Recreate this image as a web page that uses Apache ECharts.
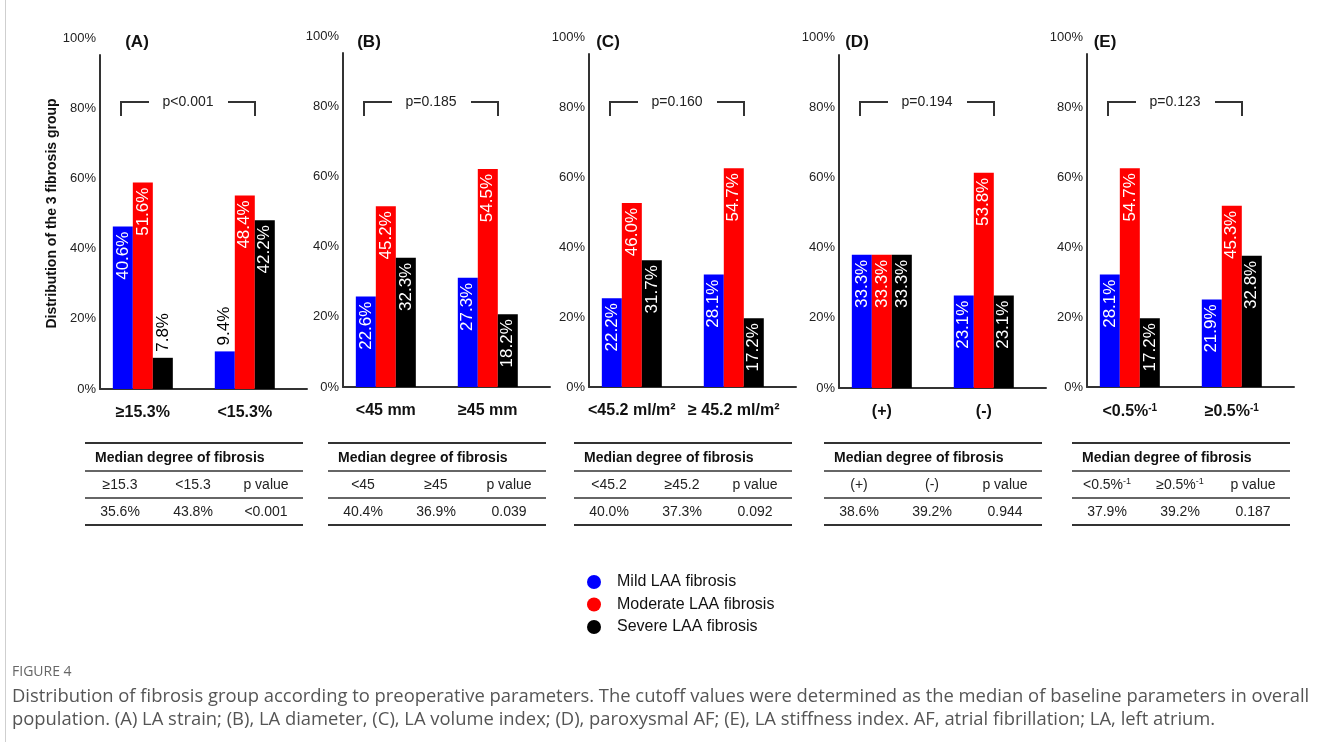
<!DOCTYPE html>
<html>
<head>
<meta charset="utf-8">
<script src="https://cdn.jsdelivr.net/npm/echarts@6/dist/echarts.min.js"></script>
<style>
html, body { margin: 0; padding: 0; background: #fff; }
#chart { width: 1329px; height: 742px; }
</style>
</head>
<body>
<div id="chart"></div>
<script>
// data
const panelTitles = ['(A)', '(B)', '(C)', '(D)', '(E)']
const levelNames = ['Mild LAA fibrosis', 'Moderate LAA fibrosis', 'Severe LAA fibrosis']
const categories = [
  ['≥15.3%', '<15.3%'],
  ['<45 mm', '≥45 mm'],
  ['<45.2 ml/m²', '≥ 45.2 ml/m²'],
  ['(+)', '(-)'],
  ['<0.5%⁻¹', '≥0.5%⁻¹']
]
const mild = [[40.6, 9.4], [22.6, 27.3], [22.2, 28.1], [33.3, 23.1], [28.1, 21.9]]
const moderate = [[51.6, 48.4], [45.2, 54.5], [46.0, 54.7], [33.3, 53.8], [54.7, 45.3]]
const severe = [[7.8, 42.2], [32.3, 18.2], [31.7, 17.2], [33.3, 23.1], [17.2, 32.8]]
const groupP = ['p<0.001', 'p=0.185', 'p=0.160', 'p=0.194', 'p=0.123']
const tableHeads = [
  ['≥15.3', '<15.3'],
  ['<45', '≥45'],
  ['<45.2', '≥45.2'],
  ['(+)', '(-)'],
  ['<0.5%⁻¹', '≥0.5%⁻¹']
]
const medianFibrosis = [[35.6, 43.8], [40.4, 36.9], [40.0, 37.3], [38.6, 39.2], [37.9, 39.2]]
const medianP = ['<0.001', '0.039', '0.092', '0.944', '0.187']
const yTicks = [0, 20, 40, 60, 80, 100]

// layout
const font = 'Liberation Sans, Arial, sans-serif'
const colors = ['#0000ff', '#ff0000', '#000000']
const axisX = [100, 343, 589, 839, 1087]
const baseY = [389, 387, 387, 388, 387]
const labelTop = [38, 36, 37, 37, 37]
const lineTop = [55, 53, 54, 55, 54]
const titleX = [137, 369, 608, 857, 1105]
const pxPerPct = 4.0
const axisLen = 207

function supText(s) {
  const parts = s.split('⁻¹')
  return parts.length > 1 ? '{n|' + parts[0] + '}{s|-1}' : s
}

const chart = echarts.init(document.getElementById('chart'))

const grid = []
const xAxis = []
const yAxis = []
const series = []
const graphic = []

const insideLabel = {
  show: true,
  position: 'insideTop',
  rotate: 90,
  align: 'right',
  verticalAlign: 'middle',
  distance: 5,
  color: '#fff',
  fontSize: 17,
  fontFamily: font,
  formatter: p => p.value[1].toFixed(1) + '%'
}
const outsideLabel = Object.assign({}, insideLabel, {
  position: 'top', align: 'left', color: '#000', distance: 6
})

panelTitles.forEach((t, i) => {
  const ax = axisX[i]
  // grid for the 0-100% tick labels
  grid.push({ left: ax, top: labelTop[i], width: axisLen, height: baseY[i] - labelTop[i] })
  xAxis.push({ gridIndex: 2 * i, type: 'value', show: false, min: 0, max: 1 })
  yAxis.push({
    gridIndex: 2 * i,
    type: 'value',
    min: yTicks[0],
    max: yTicks[yTicks.length - 1],
    interval: 20,
    axisLine: { show: false },
    axisTick: { show: false },
    splitLine: { show: false },
    axisLabel: { formatter: '{value}%', margin: 4, fontSize: 13, color: '#222', fontFamily: font },
    name: i === 0 ? 'Distribution of the 3 fibrosis group' : '',
    nameLocation: 'middle',
    nameGap: 40,
    nameTextStyle: { fontSize: 14, fontWeight: 'bold', color: '#111', fontFamily: font }
  })
  // grid holding the bars
  grid.push({ left: ax, top: lineTop[i], width: axisLen, height: baseY[i] - lineTop[i] })
  xAxis.push({
    gridIndex: 2 * i + 1,
    type: 'value',
    min: -0.42,
    max: 1.61,
    axisLine: { show: true, onZero: false, lineStyle: { color: '#333', width: 2 } },
    axisTick: { show: false },
    splitLine: { show: false },
    axisLabel: {
      customValues: [0, 1],
      formatter: v => supText(categories[i][Math.round(v)]),
      margin: 16,
      fontSize: 16,
      fontWeight: 'bold',
      color: '#111',
      fontFamily: font,
      rich: {
        n: { fontSize: 16, fontWeight: 'bold', color: '#111', fontFamily: font, lineHeight: 18 },
        s: { fontSize: 10, fontWeight: 'bold', color: '#111', fontFamily: font, lineHeight: 10, verticalAlign: 'top' }
      }
    }
  })
  yAxis.push({
    gridIndex: 2 * i + 1,
    type: 'value',
    min: 0,
    max: (baseY[i] - lineTop[i]) / pxPerPct,
    axisLine: { show: true, onZero: false, lineStyle: { color: '#333', width: 2 } },
    axisTick: { show: false },
    axisLabel: { show: false },
    splitLine: { show: false }
  })
  ;[mild, moderate, severe].forEach((arr, k) => {
    series.push({
      type: 'bar',
      name: levelNames[k],
      xAxisIndex: 2 * i + 1,
      yAxisIndex: 2 * i + 1,
      barWidth: 20,
      barGap: '0%',
      itemStyle: { color: colors[k] },
      label: insideLabel,
      data: arr[i].map((v, j) => ({
        value: [j, v],
        label: v < 15 ? outsideLabel : insideLabel
      }))
    })
  })

  // panel title
  graphic.push({
    type: 'text', x: titleX[i], y: 42,
    style: { text: t, fontSize: 17, fontWeight: 'bold', fill: '#111', fontFamily: font, align: 'center', verticalAlign: 'middle' }
  })
  // significance bracket
  const bl = ax + 21, br = ax + 155, bt = 102, bb = 116
  graphic.push({
    type: 'polyline',
    shape: { points: [[bl, bb], [bl, bt], [bl + 28, bt]] },
    style: { stroke: '#333', lineWidth: 2, fill: null }
  })
  graphic.push({
    type: 'polyline',
    shape: { points: [[br - 27, bt], [br, bt], [br, bb]] },
    style: { stroke: '#333', lineWidth: 2, fill: null }
  })
  graphic.push({
    type: 'text', x: (bl + br) / 2, y: bt,
    style: { text: groupP[i], fontSize: 14, fill: '#222', fontFamily: font, align: 'center', verticalAlign: 'middle' }
  })

  // median table
  const tl = ax - 15, tr = ax + 203
  ;[[443, 2], [471, 1.5], [498, 1.5], [525, 2]].forEach(([y, w]) => {
    graphic.push({
      type: 'line',
      shape: { x1: tl, y1: y, x2: tr, y2: y },
      style: { stroke: '#333', lineWidth: w }
    })
  })
  graphic.push({
    type: 'text', x: ax - 5, y: 458,
    style: { text: 'Median degree of fibrosis', fontSize: 14, fontWeight: 'bold', fill: '#111', fontFamily: font, align: 'left', verticalAlign: 'middle' }
  })
  const colX = [ax + 20, ax + 93, ax + 166]
  const head = [tableHeads[i][0], tableHeads[i][1], 'p value']
  const row = [medianFibrosis[i][0].toFixed(1) + '%', medianFibrosis[i][1].toFixed(1) + '%', medianP[i]]
  const rich = {
    n: { fontSize: 14, fill: '#222', fontFamily: font, lineHeight: 16 },
    s: { fontSize: 9, fill: '#222', fontFamily: font, lineHeight: 9, verticalAlign: 'top' }
  }
  head.forEach((h, c) => {
    graphic.push({
      type: 'text', x: colX[c], y: 485,
      style: { text: supText(h), rich: rich, fontSize: 14, fill: '#222', fontFamily: font, align: 'center', verticalAlign: 'middle' }
    })
    graphic.push({
      type: 'text', x: colX[c], y: 512,
      style: { text: row[c], fontSize: 14, fill: '#222', fontFamily: font, align: 'center', verticalAlign: 'middle' }
    })
  })
})

// frame and caption
graphic.push({
  type: 'line', shape: { x1: 5.5, y1: 0, x2: 5.5, y2: 742 },
  style: { stroke: '#cfcfcf', lineWidth: 1 }
})
graphic.push({
  type: 'text', x: 12, y: 672,
  style: { text: 'FIGURE 4', fontSize: 14, fill: '#666', fontFamily: 'Open Sans, sans-serif', verticalAlign: 'middle' }
})
graphic.push({
  type: 'text', x: 12, y: 697,
  style: {
    text: 'Distribution of fibrosis group according to preoperative parameters. The cutoff values were determined as the median of baseline parameters in overall',
    fontSize: 18.4, fill: '#555', fontFamily: 'Open Sans, sans-serif', verticalAlign: 'middle'
  }
})
graphic.push({
  type: 'text', x: 12, y: 720,
  style: {
    text: 'population. (A) LA strain; (B), LA diameter, (C), LA volume index; (D), paroxysmal AF; (E), LA stiffness index. AF, atrial fibrillation; LA, left atrium.',
    fontSize: 18.4, fill: '#555', fontFamily: 'Open Sans, sans-serif', verticalAlign: 'middle'
  }
})

chart.setOption({
  animation: false,
  backgroundColor: '#fff',
  grid: grid,
  xAxis: xAxis,
  yAxis: yAxis,
  legend: {
    data: levelNames,
    orient: 'vertical',
    left: 582,
    top: 569,
    icon: 'circle',
    itemWidth: 36,
    itemHeight: 14,
    itemGap: 6.5,
    textStyle: { fontSize: 16, color: '#111', fontFamily: font, lineHeight: 16 }
  },
  series: series,
  graphic: graphic
})
</script>
</body>
</html>
